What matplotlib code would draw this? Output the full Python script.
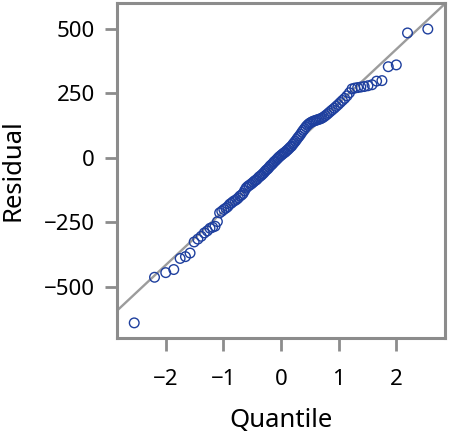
from statistics import NormalDist
import matplotlib
matplotlib.use("Agg")
import matplotlib.pyplot as plt
import numpy as np

# sorted residuals
residuals = [
    -641, -464, -446, -434, -391, -384, -370, -327, -316, -305,
    -292, -284, -274, -270, -266, -248, -214, -208, -201, -196,
    -190, -181, -176, -170, -166, -162, -156, -149, -145, -139,
    -128, -118, -112, -108, -104, -100, -95, -90, -87, -82,
    -76, -72, -68, -63, -58, -52, -47, -43, -37, -31,
    -27, -22, -16, -12, -7, -2, 3, 7, 11, 15,
    19, 22, 27, 31, 36, 41, 45, 52, 58, 64,
    71, 78, 84, 91, 99, 106, 113, 120, 126, 131,
    135, 138, 141, 143, 145, 147, 149, 151, 154, 158,
    163, 168, 174, 180, 186, 192, 199, 206, 214, 222,
    230, 240, 252, 267, 270, 272, 274, 276, 279, 283,
    297, 299, 353, 360, 484, 499,
]
# reference line (location, scale) as drawn
ref_mu = 2
ref_sigma = 209

xticks = [-2, -1, 0, 1, 2]
yticks = [-500, -250, 0, 250, 500]

plt.rcParams['font.family'] = ['Noto Sans', 'DejaVu Sans']

vals = np.sort(np.array(residuals, dtype=float))
n = len(vals)
# Blom plotting positions
nd = NormalDist()
quant = np.array([nd.inv_cdf((i - 0.375) / (n + 0.25)) for i in range(1, n + 1)])

fig = plt.figure(figsize=(4.5, 4.34), dpi=100)
ax = fig.add_axes([0.26, 0.221, 0.729, 0.772])

ax.axline((0, ref_mu), slope=ref_sigma, color='#9c9c9c', lw=1.7, zorder=1)
ax.scatter(quant, vals, s=48, facecolors='none', edgecolors='#1e3f9e',
           linewidths=1.0, zorder=2)

ax.set_xlim(-2.85, 2.85)
ax.set_ylim(-700, 600)
ax.set_xticks(xticks)
ax.set_yticks(yticks)

for sp in ax.spines.values():
    sp.set_color('#8c8c8c')
    sp.set_linewidth(2.2)
ax.tick_params(axis='both', direction='out', length=9, width=2,
               color='#8c8c8c', labelsize=16, labelcolor='black')
ax.tick_params(axis='y', pad=7)
ax.tick_params(axis='x', pad=13)

ax.set_xlabel('Quantile', fontsize=18.5, labelpad=13)
ax.set_ylabel('Residual', fontsize=18.5, labelpad=13)

fig.savefig('out.png', dpi=100)
